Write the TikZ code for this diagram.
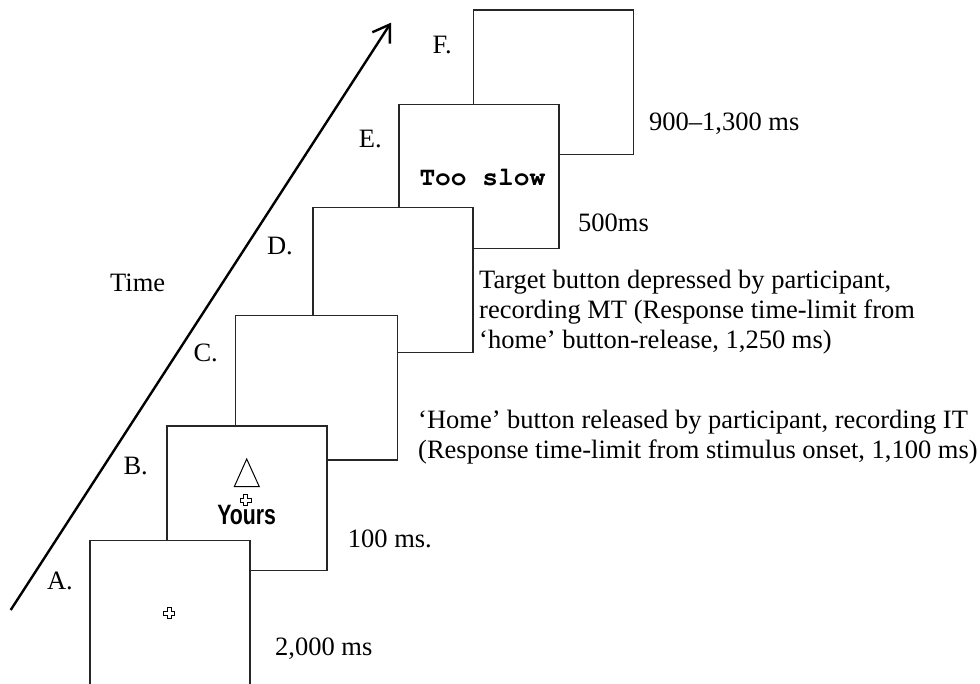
\documentclass[tikz,border=0pt]{standalone}
\usepackage{fontspec}
\usepackage{graphicx}
\setmainfont{Liberation Serif}
\newfontfamily\yoursfont{Liberation Sans}
\newfontfamily\slowfont{texgyrecursor-bold.otf}
\usetikzlibrary{arrows.meta}

\tikzset{
  screen/.style={draw=black!85, line width=1.3pt, fill=white, rectangle,
    anchor=north west, inner sep=0pt, outer sep=0pt,
    minimum width=160pt, minimum height=144.5pt},
  steplabel/.style={anchor=base east, inner sep=0pt, font=\fontsize{26.5}{30}\selectfont},
  note/.style={anchor=base west, inner sep=0pt, align=left,
    font=\fontsize{26.5}{30}\selectfont},
  timearrow/.style={line width=2.4pt, -{Straight Barb[length=16pt,width=21pt,line width=2.4pt]}},
  fixcross/.pic={
    \draw[line width=1pt, fill=white]
      (-2,-5.5) -- (2,-5.5) -- (2,-2) -- (5.5,-2) -- (5.5,2) -- (2,2) -- (2,5.5)
      -- (-2,5.5) -- (-2,2) -- (-5.5,2) -- (-5.5,-2) -- (-2,-2) -- cycle;
  }
}

\begin{document}
\begin{tikzpicture}[x=1pt, y=-1pt]
\useasboundingbox (0,0) rectangle (980,684);
\clip (0,0) rectangle (980,684);

% time arrow
\coordinate (tstart) at (10.7,610);
\coordinate (tend) at (391,22.7);
\draw[timearrow] (tstart) -- (tend);
\node[note] (time) at (110,291.7) {Time};

% screens, back to front
\node[screen] (F) at (473.3,10) {};
\node[screen] (E) at (399,104.3) {};
\node[screen] (D) at (313,207.7) {};
\node[screen, minimum width=162.5pt] (C) at (235.3,315.5) {};
\node[screen] (B) at (167,426) {};
\node[screen] (A) at (90,540.7) {};

% step letters
\node[steplabel] (lF) at (452,53.3) {F.};
\node[steplabel] (lE) at (382,147.7) {E.};
\node[steplabel] (lD) at (293,254.3) {D.};
\node[steplabel] (lC) at (218,361.7) {C.};
\node[steplabel] (lB) at (148,475) {B.};
\node[steplabel] (lA) at (73,589.3) {A.};

% screen contents
\pic at (169.3,613.3) {fixcross};
\coordinate (tri1) at (246.7,459);
\coordinate (tri2) at (234.3,486.7);
\coordinate (tri3) at (259.3,486.7);
\draw[line width=1pt] (tri1) -- (tri2) -- (tri3) -- cycle;
\node[anchor=base, inner sep=0pt] (yours) at (246.7,524)
  {\scalebox{0.76}[1]{\yoursfont\bfseries\fontsize{28}{30}\selectfont Yours}};
\pic at (245.5,500) {fixcross};
\node[anchor=base west, inner sep=0pt] (slow) at (419.3,186)
  {\slowfont\fontsize{26.2}{30}\selectfont Too slow};

% durations and descriptions (base = baseline of the last line)
\node[note] (tF) at (649,130.7) {900--1,300 ms};
\node[note] (tE) at (578,231.7) {500ms};
\node[note] (tD) at (479,349) {Target button depressed by participant,\\recording MT (Response time-limit from\\`home' button-release, 1,250 ms)};
\node[note] (tC) at (418,458) {`Home' button released by participant, recording IT\\(Response time-limit from stimulus onset, 1,100 ms)};
\node[note] (tB) at (347.7,547.7) {100 ms.};
\node[note] (tA) at (275,655.7) {2,000 ms};
\end{tikzpicture}
\end{document}
